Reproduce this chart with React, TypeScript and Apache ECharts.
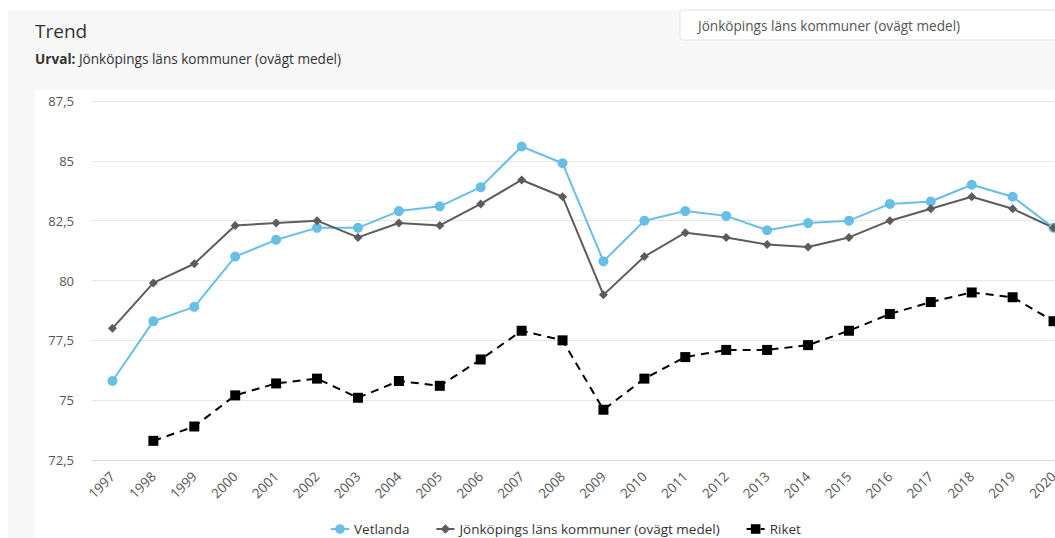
import React, { useEffect, useRef } from "react";
import * as echarts from "echarts";

const years = ["1997","1998","1999","2000","2001","2002","2003","2004","2005","2006","2007","2008","2009","2010","2011","2012","2013","2014","2015","2016","2017","2018","2019","2020"];
const vetlanda = [75.8,78.3,78.9,81.0,81.7,82.2,82.2,82.9,83.1,83.9,85.6,84.9,80.8,82.5,82.9,82.7,82.1,82.4,82.5,83.2,83.3,84.0,83.5,82.2];
const jonkoping = [78.0,79.9,80.7,82.3,82.4,82.5,81.8,82.4,82.3,83.2,84.2,83.5,79.4,81.0,82.0,81.8,81.5,81.4,81.8,82.5,83.0,83.5,83.0,82.2];
const riket = [null,73.3,73.9,75.2,75.7,75.9,75.1,75.8,75.6,76.7,77.9,77.5,74.6,75.9,76.8,77.1,77.1,77.3,77.9,78.6,79.1,79.5,79.3,78.3];
const seriesNames = ["Vetlanda", "Jönköpings läns kommuner (ovägt medel)", "Riket"];

const FONT = "'Open Sans', 'Noto Sans', sans-serif";

export default function App() {
  const ref = useRef<HTMLDivElement>(null);
  useEffect(() => {
    if (!ref.current) return;
    const chart = echarts.init(ref.current, null, { renderer: "svg" });
    chart.setOption({
      animation: false,
      textStyle: { fontFamily: FONT },
      graphic: [
        { type: "rect", z: -10, shape: { x: 8, y: 10, width: 1200, height: 600 }, style: { fill: "#f7f7f7" }, silent: true },
        { type: "rect", z: -9, shape: { x: 35, y: 90, width: 1200, height: 600 }, style: { fill: "#ffffff" }, silent: true },
        { type: "rect", z: -8, shape: { x: 680, y: 10, width: 500, height: 30, r: 3 }, style: { fill: "#ffffff", stroke: "#e3e3e3", lineWidth: 1 }, silent: true },
        { type: "text", x: 698, y: 25, style: { text: "Jönköpings läns kommuner (ovägt medel)", fontFamily: FONT, fontSize: 13.6, fill: "#555", verticalAlign: "middle" } },
        { type: "text", x: 35, y: 31, style: { text: "Trend", fontFamily: FONT, fontSize: 19, fill: "#333", verticalAlign: "middle" } },
        { type: "text", x: 35, y: 58, style: { text: "{b|Urval:} Jönköpings läns kommuner (ovägt medel)", fontFamily: FONT, fontSize: 13.6, fill: "#333", verticalAlign: "middle", rich: { b: { fontWeight: "bold", fontFamily: FONT, fontSize: 13.6, fill: "#333" } } } }
      ],
      grid: { left: 92, top: 101, width: 982, height: 359, containLabel: false },
      legend: {
        left: 325,
        top: 517,
        itemGap: 26,
        itemWidth: 18,
        itemHeight: 12,
        textStyle: { fontFamily: FONT, fontSize: 13.5, color: "#333" },
        data: seriesNames
      },
      xAxis: {
        type: "category",
        data: years,
        boundaryGap: true,
        axisLine: { lineStyle: { color: "#ccd6eb" } },
        axisTick: { show: false },
        axisLabel: { rotate: 45, fontSize: 13.5, color: "#555", margin: 14, interval: 0, fontFamily: FONT }
      },
      yAxis: {
        type: "value",
        min: 72.5,
        max: 87.5,
        interval: 2.5,
        axisLine: { show: false },
        axisTick: { show: false },
        splitLine: { lineStyle: { color: "#e6e6e6" } },
        axisLabel: {
          fontSize: 13, color: "#555", margin: 18, fontFamily: FONT,
          formatter: (v: number) => String(v).replace(".", ",")
        }
      },
      series: [
        {
          name: seriesNames[0], type: "line", data: vetlanda,
          symbol: "circle", symbolSize: 10,
          lineStyle: { color: "#68bfe6", width: 2 },
          itemStyle: { color: "#68bfe6" }
        },
        {
          name: seriesNames[1], type: "line", data: jonkoping,
          symbol: "diamond", symbolSize: 9,
          lineStyle: { color: "#5c5c5c", width: 2 },
          itemStyle: { color: "#5c5c5c" }
        },
        {
          name: seriesNames[2], type: "line", data: riket,
          symbol: "rect", symbolSize: 10,
          lineStyle: { color: "#000", width: 2, type: [8, 6] },
          itemStyle: { color: "#000" }
        }
      ]
    });
    return () => chart.dispose();
  }, []);
  return (
    <div style={{ position: "absolute", left: 0, top: 0, width: 1055, height: 538, overflow: "hidden" }}>
      <div ref={ref} style={{ position: "absolute", left: 0, top: 0, width: 1100, height: 538 }} />
    </div>
  );
}
